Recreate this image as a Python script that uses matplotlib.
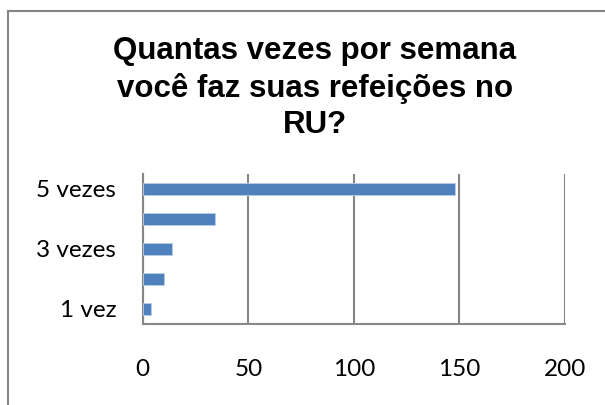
import matplotlib
matplotlib.use("Agg")
import matplotlib.pyplot as plt
from matplotlib.patches import Rectangle

# dados
categorias = ["1 vez", "2 vezes", "3 vezes", "4 vezes", "5 vezes"]
respostas = [4, 10, 14, 34, 148]
rotulos = ["1 vez", "", "3 vezes", "", "5 vezes"]
xticks = [0, 50, 100, 150, 200]

titulo = "Quantas vezes por semana\nvocê faz suas refeições no\nRU?"

fig = plt.figure(figsize=(6.05, 4.05), dpi=100)
ax = fig.add_axes([0.2359, 0.2, 0.698, 0.3704])

pos = list(range(len(categorias)))
ax.barh(pos, respostas, height=0.38, color="#4F81BD", edgecolor="#B9CDE5", linewidth=0.6, zorder=3)

ax.set_xlim(0, 200)
ax.set_ylim(-0.5, 4.5)
ax.set_xticks(xticks)
ax.set_xticklabels([str(v) for v in xticks], family="Lato", fontsize=17.5)
ax.set_yticks(pos)
ax.set_yticklabels(rotulos, family="Lato", fontsize=17.5)

ax.grid(axis="x", color="#868686", linewidth=1.5, zorder=0)
ax.tick_params(axis="both", length=0)
ax.tick_params(axis="y", pad=19)
ax.tick_params(axis="x", pad=25)
for lado in ["top", "right"]:
    ax.spines[lado].set_visible(False)
for lado in ["left", "bottom"]:
    ax.spines[lado].set_color("#868686")
    ax.spines[lado].set_linewidth(1.5)

fig.text(0.5207, 0.783, titulo, ha="center", va="center", family="Liberation Sans",
         fontweight="bold", fontsize=22.5, linespacing=1.27)

# moldura do gráfico (cortada à direita e embaixo)
fig.patches.append(Rectangle((8 / 605, -0.1), 1.2, (405 - 11) / 405 + 0.1,
                             transform=fig.transFigure, fill=False,
                             edgecolor="#868686", linewidth=1.5))

fig.savefig("out.png", dpi=100)
